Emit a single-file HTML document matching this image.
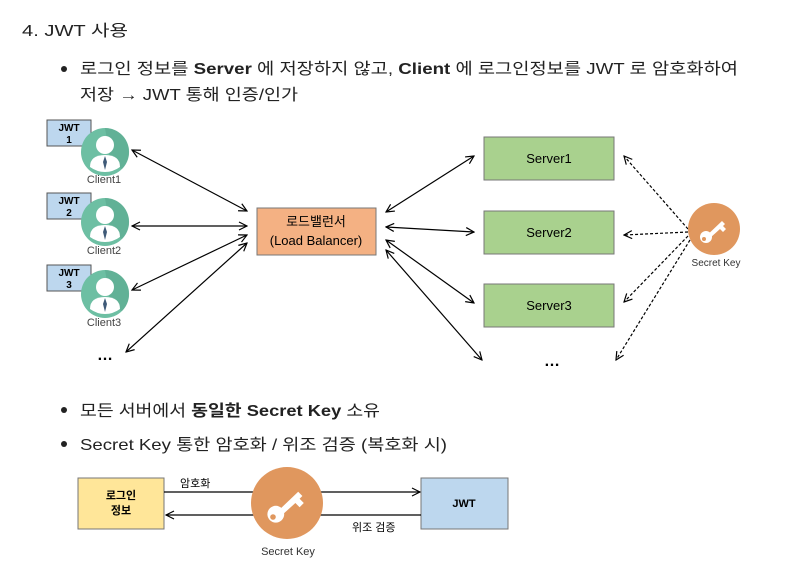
<!DOCTYPE html><html><head><meta charset="utf-8"><style>body{margin:0;background:#fff}svg{display:block}text{font-family:"Liberation Sans","Noto Sans CJK KR",sans-serif}</style></head><body>
<svg width="792" height="580" viewBox="0 0 792 580">
<defs>
<marker id="a" markerWidth="10" markerHeight="10" refX="9" refY="5" orient="auto-start-reverse" markerUnits="userSpaceOnUse"><path d="M1,1 L9,5 L1,9" fill="none" stroke="#000" stroke-width="1.2"/></marker>
<g id="person"><circle r="24" fill="#6dbfa3"/><path d="M0,-24 A24,24 0 0 1 17,17 L6,12 Z" fill="#5aa88e" opacity=".6"/><circle cy="-7" r="9" fill="#fff"/><path d="M-15,15 Q-15,3 0,3 Q15,3 15,15 Q8,20 0,20 Q-8,20 -15,15Z" fill="#fff"/><path d="M0,4 L-2,10 L0,18 L2,10Z" fill="#3f5a78"/></g>
<g id="key"><path d="M-8,8 m-6,0 a6,6 0 1 0 12,0 a6,6 0 1 0 -12,0" fill="#fff"/><path d="M-12,11 L8,-8 L11,-5 L9,-3 L12,0 L9,3 L6,0 L-4,9Z" fill="#fff"/><circle cx="-10" cy="10" r="2" fill="#e0975e"/></g>
</defs>
<text x="22" y="36" font-size="16" fill="#222" textLength="106" lengthAdjust="spacingAndGlyphs">4.  JWT 사용</text>
<circle cx="64" cy="69" r="3" fill="#222"/>
<text x="80" y="74" font-size="16" fill="#222" textLength="658" lengthAdjust="spacingAndGlyphs">로그인 정보를 <tspan font-weight="bold">Server</tspan> 에 저장하지 않고, <tspan font-weight="bold">Client</tspan> 에 로그인정보를 JWT 로 암호화하여</text>
<text x="80" y="100" font-size="16" fill="#222" textLength="218" lengthAdjust="spacingAndGlyphs">저장 → JWT 통해 인증/인가</text>
<g font-size="10" font-weight="bold" text-anchor="middle">
<rect x="47" y="120" width="44" height="26" fill="#bdd7ee" stroke="#555"/><text x="69" y="131">JWT</text><text x="69" y="143">1</text>
<rect x="47" y="193" width="44" height="26" fill="#bdd7ee" stroke="#555"/><text x="69" y="204">JWT</text><text x="69" y="216">2</text>
<rect x="47" y="265" width="44" height="26" fill="#bdd7ee" stroke="#555"/><text x="69" y="276">JWT</text><text x="69" y="288">3</text>
</g>
<use href="#person" x="105" y="152"/><use href="#person" x="105" y="222"/><use href="#person" x="105" y="294"/>
<g font-size="11" fill="#444" text-anchor="middle"><text x="104" y="183">Client1</text><text x="104" y="254">Client2</text><text x="104" y="326">Client3</text></g>
<text x="105" y="360" font-size="16" text-anchor="middle" font-weight="bold">…</text>
<g stroke="#000" stroke-width="1.2" marker-start="url(#a)" marker-end="url(#a)">
<line x1="132" y1="150" x2="247" y2="211"/><line x1="132" y1="226" x2="247" y2="226"/><line x1="132" y1="290" x2="247" y2="235"/><line x1="126" y1="352" x2="247" y2="243"/>
<line x1="386" y1="212" x2="474" y2="156"/><line x1="386" y1="227" x2="474" y2="232"/><line x1="386" y1="240" x2="474" y2="303"/><line x1="386" y1="250" x2="482" y2="360"/>
</g>
<rect x="257" y="208" width="119" height="47" fill="#f4b183" stroke="#777"/>
<text x="316" y="226" font-size="13" text-anchor="middle">로드밸런서</text><text x="316" y="245" font-size="13" text-anchor="middle">(Load Balancer)</text>
<g font-size="13" text-anchor="middle">
<rect x="484" y="137" width="130" height="43" fill="#a9d18e" stroke="#777"/><text x="549" y="163">Server1</text>
<rect x="484" y="211" width="130" height="43" fill="#a9d18e" stroke="#777"/><text x="549" y="237">Server2</text>
<rect x="484" y="284" width="130" height="43" fill="#a9d18e" stroke="#777"/><text x="549" y="310">Server3</text>
</g>
<text x="552" y="366" font-size="16" text-anchor="middle" font-weight="bold">…</text>
<g stroke="#000" stroke-width="1.2" stroke-dasharray="3,2" marker-end="url(#a)">
<line x1="688" y1="229" x2="624" y2="156"/><line x1="688" y1="232" x2="624" y2="235"/><line x1="688" y1="236" x2="624" y2="302"/><line x1="690" y1="240" x2="616" y2="360"/>
</g>
<circle cx="714" cy="229" r="26" fill="#e0975e"/><use href="#key" x="714" y="229"/>
<text x="716" y="266" font-size="10" text-anchor="middle" fill="#333">Secret Key</text>
<circle cx="64" cy="410" r="3" fill="#222"/>
<text x="80" y="416" font-size="16" fill="#222" textLength="300" lengthAdjust="spacingAndGlyphs">모든 서버에서 <tspan font-weight="bold">동일한</tspan> <tspan font-weight="bold">Secret Key</tspan> 소유</text>
<circle cx="64" cy="444" r="3" fill="#222"/>
<text x="80" y="450" font-size="16" fill="#222" textLength="367" lengthAdjust="spacingAndGlyphs">Secret Key 통한 암호화 / 위조 검증 (복호화 시)</text>
<rect x="78" y="478" width="86" height="51" fill="#ffe699" stroke="#777"/>
<text x="121" y="499" font-size="11" font-weight="bold" text-anchor="middle">로그인</text><text x="121" y="514" font-size="11" font-weight="bold" text-anchor="middle">정보</text>
<rect x="421" y="478" width="87" height="51" fill="#bdd7ee" stroke="#777"/>
<text x="464" y="507" font-size="11" font-weight="bold" text-anchor="middle">JWT</text>
<line x1="164" y1="492" x2="420" y2="492" stroke="#000" stroke-width="1.2" marker-end="url(#a)"/>
<line x1="421" y1="515" x2="166" y2="515" stroke="#000" stroke-width="1.2" marker-end="url(#a)"/>
<circle cx="287" cy="503" r="36" fill="#e0975e"/>
<g transform="translate(287,503) scale(1.4)"><use href="#key"/></g>
<text x="180" y="487" font-size="11">암호화</text>
<text x="352" y="531" font-size="11">위조 검증</text>
<text x="288" y="555" font-size="11" text-anchor="middle" fill="#333">Secret Key</text>
</svg></body></html>
